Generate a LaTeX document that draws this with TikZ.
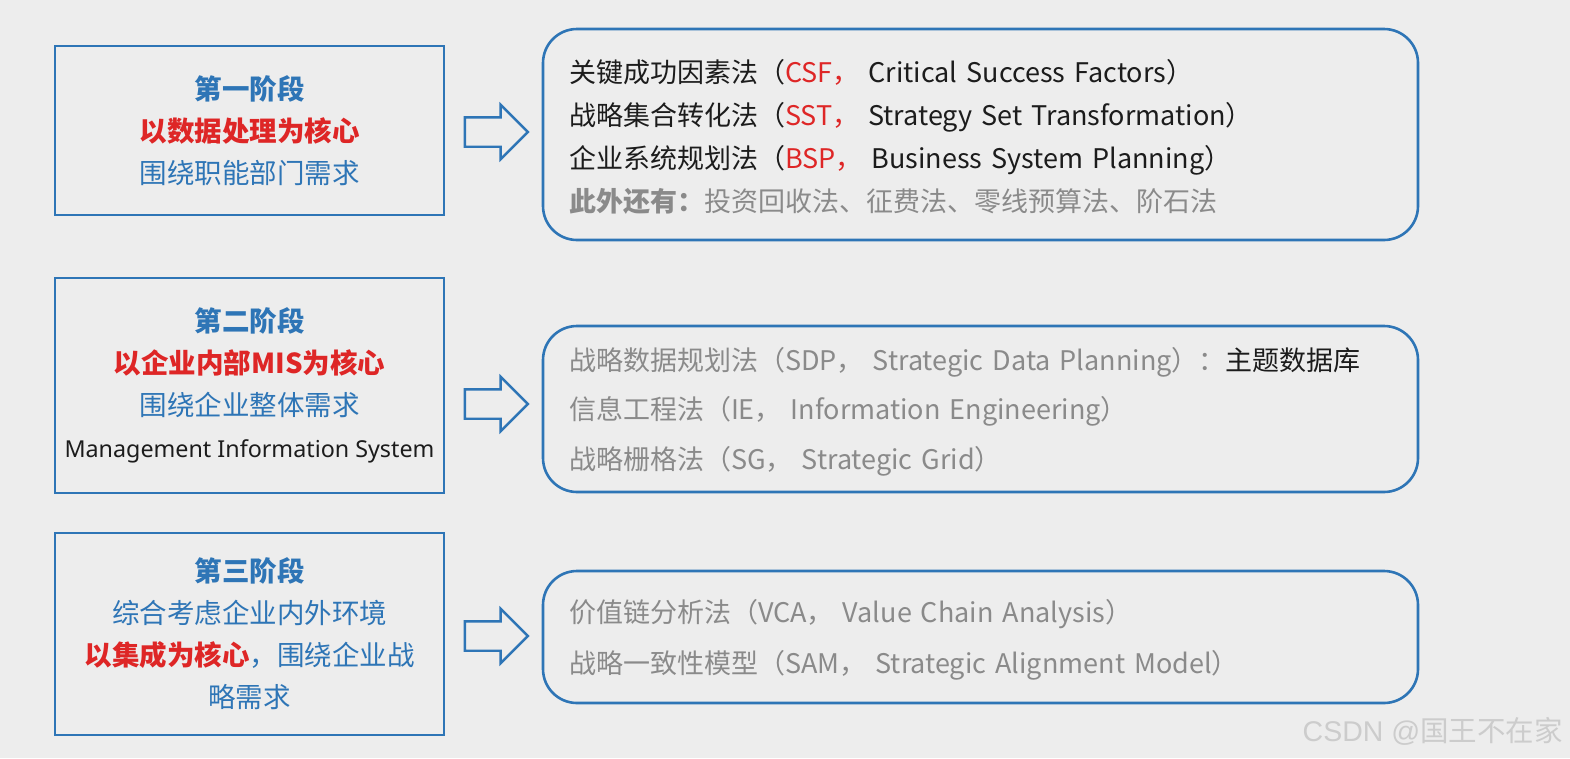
\documentclass[tikz,border=0pt]{standalone}
\usepackage{fontspec}
\setmainfont{Noto Sans CJK SC}
\newfontfamily\latinfont{Noto Sans}
\newfontfamily\markfont{Liberation Sans}
\usetikzlibrary{shapes.arrows}
\definecolor{stageblue}{RGB}{46,117,182}
\definecolor{corered}{RGB}{222,38,38}
\definecolor{methodgray}{RGB}{138,138,138}
\definecolor{textblack}{RGB}{28,28,28}
\definecolor{bggray}{RGB}{237,237,237}

\begin{document}
\begin{tikzpicture}[x=1pt,y=-1pt,
  stagebox/.style={draw=stageblue,line width=2.6pt,minimum width=389pt,inner sep=0pt,align=center,text=stageblue,font=\fontsize{27.5}{42}\selectfont},
  methodbox/.style={draw=stageblue,line width=2.6pt,rounded corners=34pt,text width=823pt,inner xsep=26pt,inner ysep=0pt,align=left,text=textblack},
  blockarrow/.style={single arrow,draw=stageblue,line width=2.4pt,minimum height=63pt,inner xsep=0pt,inner ysep=13.5pt,single arrow head extend=12.5pt}
]
\fill[bggray] (0,0) rectangle (1570,758);

\node[stagebox,minimum height=169pt] (s1) at (249.5,130.5) {{\bfseries 第一阶段}\\ {\bfseries\color{corered}以数据处理为核心}\\ 围绕职能部门需求};
\node[stagebox,minimum height=215pt] (s2) at (249.5,385.5) {{\bfseries 第二阶段}\\ {\bfseries\color{corered}以企业内部MIS为核心}\\ 围绕企业整体需求\\ {\latinfont\color{textblack}\fontsize{23.3}{42}\selectfont Management Information System}};
\node[stagebox,minimum height=202pt] (s3) at (249.5,634) {{\bfseries 第三阶段}\\ 综合考虑企业内外环境\\ {\bfseries\color{corered}以集成为核心}，围绕企业战\\ 略需求};

\node[methodbox,minimum height=211pt,font=\fontsize{27}{43}\selectfont] (m1) at (980.5,134.5) {\rule{0pt}{1.05em}关键成功因素法（{\color{corered}CSF，} Critical Success Factors）\\
战略集合转化法（{\color{corered}SST，} Strategy Set Transformation）\\
企业系统规划法（{\color{corered}BSP，} Business System Planning）\\
{\color{methodgray}{\bfseries 此外还有：}投资回收法、征费法、零线预算法、阶石法}};
\node[methodbox,minimum height=166pt,font=\fontsize{27}{49.5}\selectfont,text=methodgray] (m2) at (980.5,409) {\rule{0pt}{1.05em}战略数据规划法（SDP， Strategic Data Planning）：{\color{textblack}主题数据库}\\
信息工程法（IE， Information Engineering）\\
战略栅格法（SG， Strategic Grid）};
\node[methodbox,minimum height=132pt,font=\fontsize{27}{51}\selectfont,text=methodgray] (m3) at (980.5,637) {\rule{0pt}{1.05em}价值链分析法（VCA， Value Chain Analysis）\\
战略一致性模型（SAM， Strategic Alignment Model）};

\node[blockarrow] (a1) at (489,132) {};
\node[blockarrow] (a2) at (489,404) {};
\node[blockarrow] (a3) at (489,636) {};

\node[font=\fontsize{28.5}{32}\selectfont,text=white!80!black,anchor=east,inner sep=0pt] (mark) at (1563,731) {{\markfont CSDN @}国王不在家};
\end{tikzpicture}
\end{document}
